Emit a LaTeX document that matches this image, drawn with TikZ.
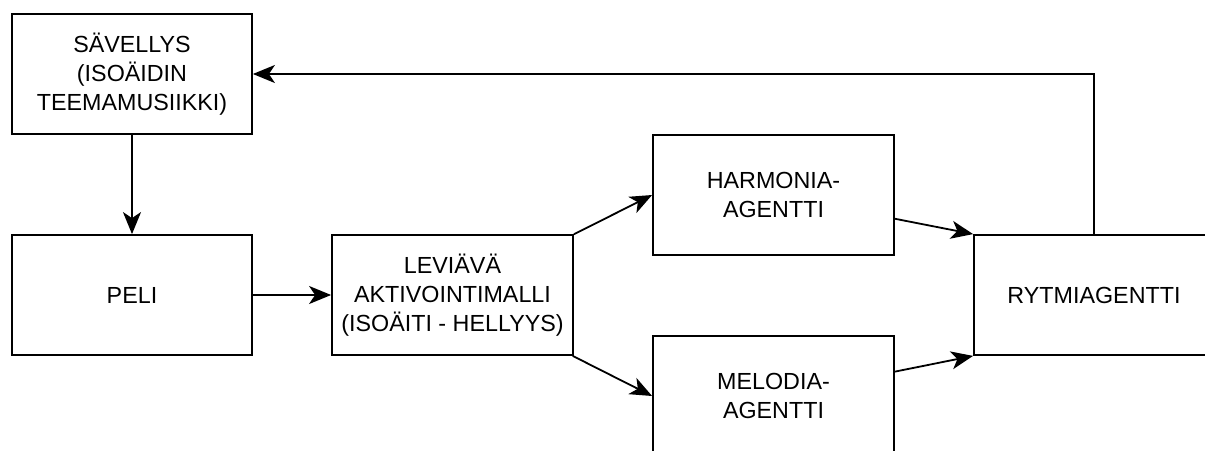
\documentclass[tikz,border=0pt]{standalone}
\usepackage{fontspec}
\setmainfont{Liberation Sans}
\usetikzlibrary{arrows.meta}
\tikzset{
  box/.style={draw=black, line width=1.8pt, minimum width=240pt, minimum height=120pt,
    align=center, inner sep=0pt, font=\fontsize{23.3}{28.8}\selectfont, fill=white},
  conn/.style={line width=1.8pt, -{Stealth[length=22pt, width=18pt, inset=6pt]}}
}
\begin{document}
\begin{tikzpicture}[x=1pt, y=-1pt]
\useasboundingbox (0,0) rectangle (1205,450);
\clip (0,0) rectangle (1205,450);
\fill[white] (0,0) rectangle (1205,450);
\node[box] (sav) at (132,74) {SÄVELLYS\\(ISOÄIDIN\\TEEMAMUSIIKKI)};
\node[box] (peli) at (132,295) {PELI};
\node[box, minimum width=241pt] (lev) at (452.5,295) {LEVIÄVÄ\\AKTIVOINTIMALLI\\(ISOÄITI - HELLYYS)};
\node[box, minimum width=241pt] (harm) at (773.5,195) {HARMONIA-\\AGENTTI};
\node[box, minimum width=241pt] (mel) at (773.5,396) {MELODIA-\\AGENTTI};
\node[box] (ryt) at (1094,295) {RYTMIAGENTTI};
\draw[conn] (sav) -- (peli);
\draw[conn] (peli) -- (lev);
\draw[conn] (lev) -- (harm.west);
\draw[conn] (lev) -- (mel.west);
\draw[conn] (harm) -- (ryt.north west);
\draw[conn] (mel) -- (ryt.south west);
\draw[conn] (ryt.north) |- (sav.east);
\end{tikzpicture}
\end{document}
